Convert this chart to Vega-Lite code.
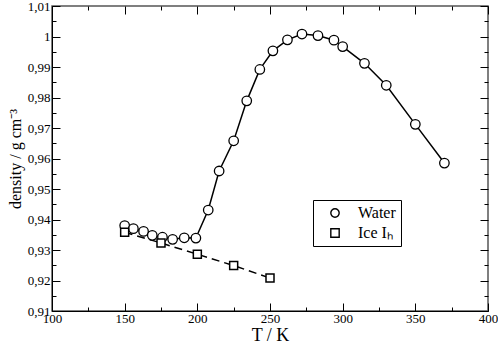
{
  "$schema": "https://vega.github.io/schema/vega-lite/v6.json",
  "width": 436,
  "height": 305,
  "autosize": {"type": "none"},
  "padding": {"left": 52, "top": 6, "right": 10, "bottom": 33},
  "background": "white",
  "config": {
    "font": "Liberation Serif",
    "view": {"stroke": "#555", "strokeWidth": 1.5},
    "axis": {
      "domainColor": "black", "domainWidth": 1, "tickColor": "black", "tickWidth": 1,
      "labelFont": "Liberation Serif", "labelFontSize": 13, "labelColor": "black",
      "titleFont": "Liberation Serif", "titleFontWeight": "normal", "titleColor": "black",
      "grid": false, "labelFlush": false, "labelOverlap": false
    },
    "legend": {
      "orient": "none", "legendX": 261, "legendY": 194, "title": null,
      "symbolSize": 70, "symbolOffset": 9, "symbolStrokeWidth": 1.4,
      "labelFont": "Liberation Serif", "labelFontSize": 16, "labelColor": "black", "labelOffset": 15,
      "padding": 5, "rowPadding": 4, "fillColor": "white", "strokeColor": "black"
    }
  },
  "data": {"values": [
    {"series": "Water", "T": 150, "d": 0.938},
    {"series": "Water", "T": 156, "d": 0.937},
    {"series": "Water", "T": 163, "d": 0.9361},
    {"series": "Water", "T": 169, "d": 0.9348},
    {"series": "Water", "T": 176, "d": 0.9342},
    {"series": "Water", "T": 183, "d": 0.9335},
    {"series": "Water", "T": 191, "d": 0.934},
    {"series": "Water", "T": 199, "d": 0.9339},
    {"series": "Water", "T": 207.5, "d": 0.9431},
    {"series": "Water", "T": 215, "d": 0.9559},
    {"series": "Water", "T": 225, "d": 0.9658},
    {"series": "Water", "T": 234, "d": 0.9789},
    {"series": "Water", "T": 243, "d": 0.9892},
    {"series": "Water", "T": 252, "d": 0.9953},
    {"series": "Water", "T": 262, "d": 0.9989},
    {"series": "Water", "T": 272, "d": 1.0008},
    {"series": "Water", "T": 283, "d": 1.0003},
    {"series": "Water", "T": 294, "d": 0.9988},
    {"series": "Water", "T": 300, "d": 0.9967},
    {"series": "Water", "T": 315, "d": 0.9912},
    {"series": "Water", "T": 330, "d": 0.984},
    {"series": "Water", "T": 350, "d": 0.9712},
    {"series": "Water", "T": 370, "d": 0.9585},
    {"series": "Ice Iₕ", "T": 150, "d": 0.9358},
    {"series": "Ice Iₕ", "T": 175, "d": 0.9323},
    {"series": "Ice Iₕ", "T": 200, "d": 0.9286},
    {"series": "Ice Iₕ", "T": 225, "d": 0.9249},
    {"series": "Ice Iₕ", "T": 250, "d": 0.9208}
  ]},
  "layer": [
    {
      "transform": [{"filter": "datum.series == 'Water'"}],
      "mark": {"type": "line", "color": "black", "strokeWidth": 1.5},
      "encoding": {
        "x": {"field": "T", "type": "quantitative", "scale": {"domain": [100, 400], "nice": false, "zero": false},
          "axis": {
            "values": [100, 125, 150, 175, 200, 225, 250, 275, 300, 325, 350, 375, 400],
            "tickSize": {"condition": {"test": "datum.value % 50 === 0", "value": -8}, "value": -4},
            "labelExpr": "datum.value % 50 === 0 ? datum.label : ''",
            "labelPadding": 9,
            "title": "T / K", "titleFontSize": 18, "titlePadding": -3
          }},
        "y": {"field": "d", "type": "quantitative", "scale": {"domain": [0.91, 1.01], "nice": false, "zero": false},
          "axis": {
            "values": [0.91, 0.915, 0.92, 0.925, 0.93, 0.935, 0.94, 0.945, 0.95, 0.955, 0.96, 0.965, 0.97, 0.975, 0.98, 0.985, 0.99, 0.995, 1, 1.005, 1.01],
            "tickSize": {"condition": {"test": "abs(datum.value*100 - round(datum.value*100)) < 0.01", "value": -8}, "value": -4},
            "labelExpr": "abs(datum.value*100 - round(datum.value*100)) < 0.01 ? replace(format(datum.value, '.2~f'), '.', ',') : ''",
            "labelPadding": 10,
            "title": "density / g cm⁻³", "titleFontSize": 16, "titlePadding": 4
          }}
      }
    },
    {
      "transform": [{"filter": "datum.series != 'Water'"}],
      "mark": {"type": "line", "color": "black", "strokeWidth": 1.5, "strokeDash": [8, 5]},
      "encoding": {
        "x": {"field": "T", "type": "quantitative", "scale": {"domain": [100, 400], "nice": false, "zero": false}, "axis": null},
        "y": {"field": "d", "type": "quantitative", "scale": {"domain": [0.91, 1.01], "nice": false, "zero": false}, "axis": null}
      }
    },
    {
      "transform": [{"filter": "datum.series == 'Water'"}],
      "mark": {"type": "point", "size": 90, "filled": true, "fill": "white", "stroke": "black", "strokeWidth": 1.3, "opacity": 1},
      "encoding": {
        "x": {"field": "T", "type": "quantitative", "scale": {"domain": [100, 400], "nice": false, "zero": false}, "axis": null},
        "y": {"field": "d", "type": "quantitative", "scale": {"domain": [0.91, 1.01], "nice": false, "zero": false}, "axis": null},
        "shape": {"field": "series", "type": "nominal",
          "scale": {"domain": ["Water", "Ice Iₕ"], "range": ["circle", "square"]}}
      }
    },
    {
      "transform": [{"filter": "datum.series != 'Water'"}],
      "mark": {"type": "point", "size": 64, "filled": true, "fill": "white", "stroke": "black", "strokeWidth": 1.5, "opacity": 1},
      "encoding": {
        "x": {"field": "T", "type": "quantitative", "scale": {"domain": [100, 400], "nice": false, "zero": false}, "axis": null},
        "y": {"field": "d", "type": "quantitative", "scale": {"domain": [0.91, 1.01], "nice": false, "zero": false}, "axis": null},
        "shape": {"field": "series", "type": "nominal",
          "scale": {"domain": ["Water", "Ice Iₕ"], "range": ["circle", "square"]}}
      }
    },
    {
      "mark": {"type": "point", "opacity": 0},
      "encoding": {
        "x": {"field": "T", "type": "quantitative", "scale": {"domain": [100, 400], "nice": false, "zero": false},
          "axis": {"orient": "top", "values": [100, 125, 150, 175, 200, 225, 250, 275, 300, 325, 350, 375, 400],
            "tickSize": {"condition": {"test": "datum.value % 50 === 0", "value": -8}, "value": -4},
            "labels": false, "domain": false, "title": null}},
        "y": {"field": "d", "type": "quantitative", "scale": {"domain": [0.91, 1.01], "nice": false, "zero": false},
          "axis": {"orient": "right", "values": [0.91, 0.915, 0.92, 0.925, 0.93, 0.935, 0.94, 0.945, 0.95, 0.955, 0.96, 0.965, 0.97, 0.975, 0.98, 0.985, 0.99, 0.995, 1, 1.005, 1.01],
            "tickSize": {"condition": {"test": "abs(datum.value*100 - round(datum.value*100)) < 0.01", "value": -8}, "value": -4},
            "labels": false, "domain": false, "title": null}}
      }
    }
  ],
  "resolve": {"axis": {"x": "independent", "y": "independent"}}
}
